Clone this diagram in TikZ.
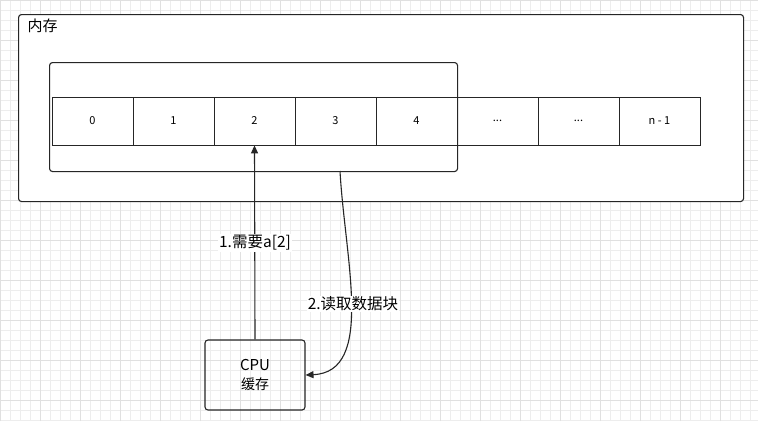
\documentclass[tikz,border=0pt]{standalone}
\usepackage{fontspec}
\setmainfont{Noto Sans CJK SC}
\usetikzlibrary{arrows.meta}
\begin{document}
\begin{tikzpicture}[x=1pt,y=-1pt,
  box/.style={draw=black!85,line width=1.1pt,rounded corners=3pt},
  cell/.style={draw=black!85,line width=0.8pt,minimum width=81pt,minimum height=48pt,inner sep=0pt,font=\fontsize{11}{13}\selectfont},
  lbl/.style={fill=white,inner sep=1pt,font=\fontsize{15.5}{18}\selectfont},
  arr/.style={line width=1.1pt,draw=black!85,-{Triangle[length=8pt,width=7pt]}}]
\useasboundingbox (0,0) rectangle (758,421);
\fill[white] (0,0) rectangle (758,421);
\draw[black!7,line width=0.4pt] (0,0) grid[step=10pt] (758,421);
\draw[black!12,line width=0.5pt] (0,0) grid[step=40pt] (758,421);
\node[box,fill=white,minimum width=725pt,minimum height=187pt,anchor=north west] (mem) at (18,14) {};
\node[anchor=north west,font=\fontsize{15}{17}\selectfont] (memt) at (24,15) {内存};
\node[box,minimum width=408pt,minimum height=109pt,anchor=north west] (blk) at (49,62) {};
\foreach \i/\t in {0/0,1/1,2/2,3/3,4/4,5/{...},6/{...},7/n - 1}{
  \node[cell] (c\i) at (92.5+81*\i,121) {\t};
}
\node[box,minimum width=100pt,minimum height=70pt,align=center,font=\fontsize{15}{19}\selectfont] (cpu) at (255,375) {CPU\\ \fontsize{14}{16}\selectfont 缓存};
\draw[arr] (cpu.north) -- (c2.south);
\node[lbl] (l1) at (255,243) {1.需要a[2]};
\coordinate (s) at (340,171);
\draw[arr] (s) .. controls (345,260) and (375,372) .. (cpu.east);
\node[lbl] (l2) at (353,304) {2.读取数据块};
\end{tikzpicture}
\end{document}
